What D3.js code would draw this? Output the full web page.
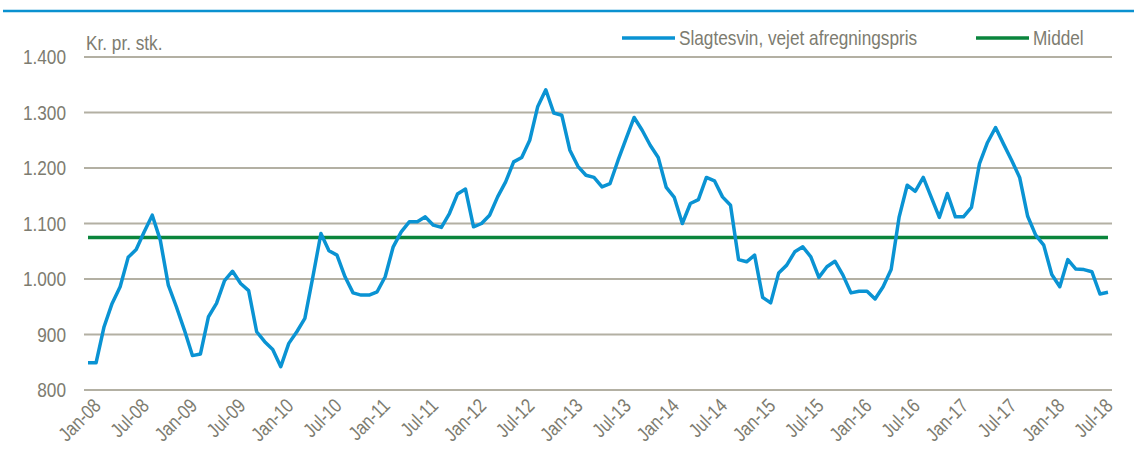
<!DOCTYPE html>
<html>
<head>
<meta charset="utf-8">
<script src="https://cdn.jsdelivr.net/npm/d3@7"></script>
<style>
  body { margin: 0; background: #fff; }
  svg text { font-family: "Liberation Sans", Arial, sans-serif; fill: #7d7c70; }
</style>
</head>
<body>
<div class="chart"></div>
<script>
var months = d3.timeMonth.range(new Date(2008, 0, 1), new Date(2018, 8, 1));

var prices = [
  849, 849, 914, 956, 986, 1039, 1053, 1085, 1115, 1070, 989, 950,
  908, 862, 865, 932, 956, 997, 1014, 992, 979, 905, 887, 873,
  842, 884, 905, 929, 1004, 1082, 1051, 1043, 1004, 975, 971, 971,
  977, 1004, 1058, 1085, 1103, 1103, 1112, 1097, 1093, 1118, 1153, 1162,
  1094, 1100, 1115, 1148, 1175, 1211, 1219, 1250, 1311, 1341, 1299, 1295,
  1232, 1203, 1187, 1183, 1166, 1172, 1214, 1253, 1291, 1268, 1241, 1219,
  1165, 1147, 1100, 1136, 1143, 1183, 1177, 1148, 1133, 1035, 1031, 1043,
  967, 957, 1011, 1025, 1049, 1058, 1040, 1003, 1022, 1032, 1007, 975,
  978, 978, 964, 986, 1017, 1112, 1169, 1158, 1183, 1147, 1111, 1154,
  1112, 1112, 1129, 1208, 1246, 1273, 1243, 1214, 1183, 1113, 1079, 1061,
  1008, 986, 1035, 1018, 1017, 1013, 973, 976
];

var middel = 1075;

var yTicks = [800, 900, 1000, 1100, 1200, 1300, 1400];
var yTickLabels = ["800", "900", "1.000", "1.100", "1.200", "1.300", "1.400"];

var xTickLabels = ["Jan-08", "Jul-08", "Jan-09", "Jul-09", "Jan-10", "Jul-10", "Jan-11", "Jul-11",
  "Jan-12", "Jul-12", "Jan-13", "Jul-13", "Jan-14", "Jul-14", "Jan-15", "Jul-15",
  "Jan-16", "Jul-16", "Jan-17", "Jul-17", "Jan-18", "Jul-18"];

var seriesNames = ["Slagtesvin, vejet afregningspris", "Middel"];
var seriesColors = ["#0a93d3", "#0a853c"];

var width = 1134;
var height = 463;
var narrow = " scale(0.82,1)";

var svg = d3.select(".chart").append("svg")
    .attr("width", width)
    .attr("height", height);

var x = d3.scalePoint()
    .domain(d3.range(months.length))
    .range([84, 1112])
    .padding(0.5);

var y = d3.scaleLinear()
    .domain([800, 1400])
    .range([390, 57]);

// top rule
svg.append("line")
    .attr("x1", 3).attr("x2", width)
    .attr("y1", 11).attr("y2", 11)
    .attr("stroke", "#0a91d0")
    .attr("stroke-width", 2.5);

svg.append("text")
    .attr("transform", "translate(86,50)" + narrow)
    .style("font-size", "21px")
    .text("Kr. pr. stk.");

svg.selectAll(".grid")
    .data(yTicks)
    .enter().append("line")
      .attr("class", "grid")
      .attr("x1", 84).attr("x2", 1112)
      .attr("y1", function(d) { return y(d); })
      .attr("y2", function(d) { return y(d); })
      .attr("stroke", "#b3b0a3")
      .attr("stroke-width", 2);

svg.selectAll(".ylab")
    .data(yTicks)
    .enter().append("text")
      .attr("class", "ylab")
      .attr("transform", function(d) { return "translate(66," + y(d) + ")" + narrow; })
      .attr("dy", "0.35em")
      .attr("text-anchor", "end")
      .style("font-size", "21px")
      .text(function(d, i) { return yTickLabels[i]; });

svg.selectAll(".xlab")
    .data(xTickLabels)
    .enter().append("text")
      .attr("class", "xlab")
      .attr("transform", function(d, i) { return "translate(" + (x(i * 6) + 4) + ",397) rotate(-45)" + narrow; })
      .attr("dy", "0.71em")
      .attr("text-anchor", "end")
      .style("font-size", "20px")
      .text(function(d) { return d; });

svg.append("line")
    .attr("x1", x(0)).attr("x2", x(months.length - 1))
    .attr("y1", y(middel)).attr("y2", y(middel))
    .attr("stroke", seriesColors[1])
    .attr("stroke-width", 3.5);

var line = d3.line()
    .x(function(d, i) { return x(i); })
    .y(function(d) { return y(d); });

svg.append("path")
    .datum(prices)
    .attr("d", line)
    .attr("fill", "none")
    .attr("stroke", seriesColors[0])
    .attr("stroke-width", 3.5)
    .attr("stroke-linejoin", "round");

var legendX = [622, 976];
var legend = svg.selectAll(".legend")
    .data(seriesNames)
    .enter().append("g")
      .attr("class", "legend")
      .attr("transform", function(d, i) { return "translate(" + legendX[i] + ",38)"; });

legend.append("line")
    .attr("x1", 0).attr("x2", 53)
    .attr("stroke", function(d, i) { return seriesColors[i]; })
    .attr("stroke-width", 3.5);

legend.append("text")
    .attr("transform", "translate(57,0)" + narrow)
    .attr("dy", "0.35em")
    .style("font-size", "21px")
    .text(function(d) { return d; });
</script>
</body>
</html>
